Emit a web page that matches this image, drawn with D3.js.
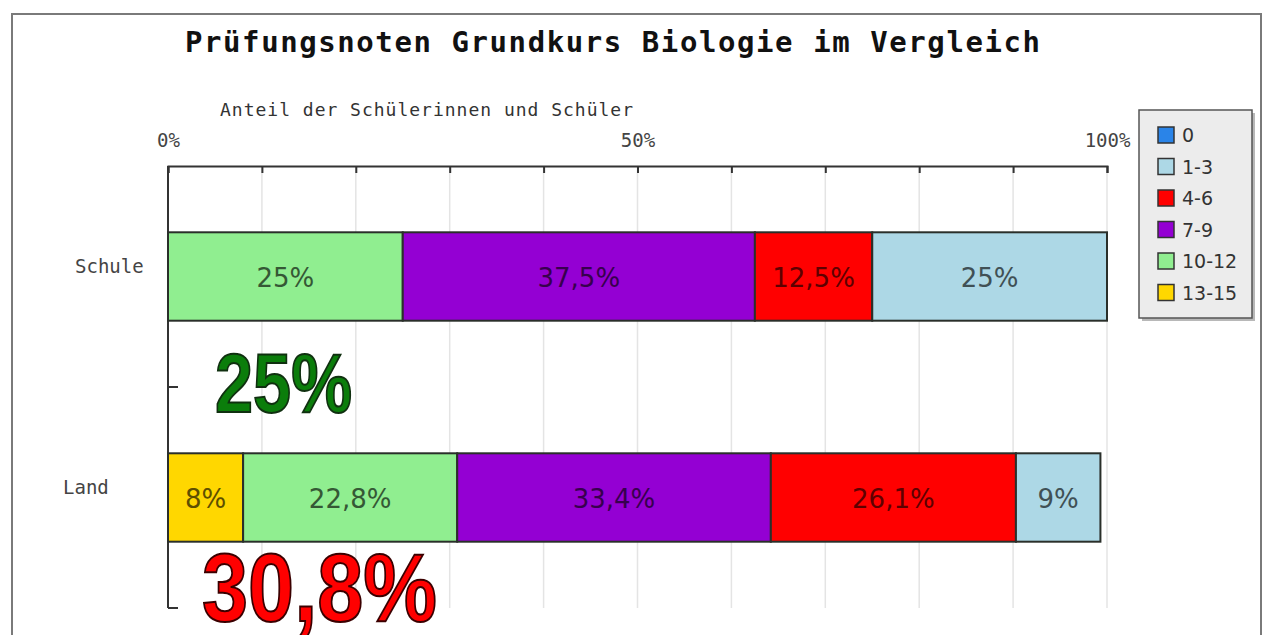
<!DOCTYPE html>
<html>
<head>
<meta charset="utf-8">
<script src="https://cdn.jsdelivr.net/npm/d3@7"></script>
<style>
  body { margin: 0; background: #fff; }
  svg { display: block; }
</style>
</head>
<body>
<div id="grafico"></div>
<script>
// Daten (Anteile in %), Reihenfolge der Stapel von links nach rechts
const kategorien = ["Schule", "Land"];
const noten = ["13-15", "10-12", "7-9", "4-6", "1-3", "0"];
const schule = [0, 25, 37.5, 12.5, 25, 0];
const land = [8, 22.8, 33.4, 26.1, 9, 0];
const legendeNoten = ["0", "1-3", "4-6", "7-9", "10-12", "13-15"];
const achsenTicks = [0, 10, 20, 30, 40, 50, 60, 70, 80, 90, 100];
const tickTexte = { 0: "0%", 50: "50%", 100: "100%" };

const farben = {
  "0": "#2a84e8",
  "1-3": "#add8e6",
  "4-6": "#ff0000",
  "7-9": "#9400d3",
  "10-12": "#90ee90",
  "13-15": "#ffd700"
};

const W = 1263, H = 635;
const plot = { left: 168, right: 1107, top: 166, bottom: 608 };

const svg = d3.select("#grafico").append("svg")
  .attr("width", W)
  .attr("height", H);

// Rahmen
svg.append("rect")
  .attr("x", 12).attr("y", 14)
  .attr("width", 1249).attr("height", 700)
  .attr("fill", "none")
  .attr("stroke", "#7a7a7a")
  .attr("stroke-width", 2);

// Skalen
const x = d3.scaleLinear().domain([0, 100]).range([plot.left, plot.right]);
const y = d3.scaleBand().domain(kategorien)
  .range([plot.top, plot.bottom])
  .paddingInner(0.6).paddingOuter(0.3);

// Tabelle fuer d3.stack
const werte = { Schule: schule, Land: land };
const tabelle = kategorien.map(k => {
  const zeile = { kategorie: k };
  noten.forEach((n, i) => zeile[n] = werte[k][i]);
  return zeile;
});
const serien = d3.stack().keys(noten)(tabelle);

// Gitterlinien
svg.append("g")
  .selectAll("line")
  .data(achsenTicks.slice(1))
  .join("line")
  .attr("x1", d => x(d)).attr("x2", d => x(d))
  .attr("y1", plot.top).attr("y2", plot.bottom)
  .attr("stroke", "#e4e4e4")
  .attr("stroke-width", 1.5);

// Titel
svg.append("text")
  .attr("x", 185).attr("y", 52)
  .attr("textLength", 855)
  .attr("lengthAdjust", "spacing")
  .style("font-family", "'DejaVu Sans Mono', monospace")
  .style("font-weight", "bold")
  .style("font-size", "29px")
  .attr("fill", "#111")
  .text("Prüfungsnoten Grundkurs Biologie im Vergleich");

// Achsentitel
svg.append("text")
  .attr("x", 220).attr("y", 116)
  .attr("textLength", 413)
  .attr("lengthAdjust", "spacing")
  .style("font-family", "'DejaVu Sans Mono', monospace")
  .style("font-size", "18px")
  .attr("fill", "#333")
  .text("Anteil der Schülerinnen und Schüler");

// Obere Achse
const achseOben = svg.append("g")
  .attr("transform", `translate(0, ${plot.top})`)
  .call(d3.axisTop(x)
    .tickValues(achsenTicks)
    .tickSize(-7)
    .tickPadding(19)
    .tickFormat(d => tickTexte[d] || ""));
achseOben.select(".domain").attr("stroke", "#333").attr("stroke-width", 2);
achseOben.selectAll(".tick line").attr("stroke", "#333").attr("stroke-width", 2);
achseOben.selectAll("text")
  .style("font-family", "'DejaVu Sans Mono', monospace")
  .style("font-size", "19px")
  .attr("fill", "#444");

// Linke Achse mit Ticks an den Kategoriegrenzen
svg.append("line")
  .attr("x1", plot.left).attr("x2", plot.left)
  .attr("y1", plot.top).attr("y2", plot.bottom)
  .attr("stroke", "#333").attr("stroke-width", 2);
const grenzen = kategorien.map(k => y(k) + y.bandwidth() + y.step() * 0.3);
svg.append("g")
  .selectAll("line")
  .data(grenzen)
  .join("line")
  .attr("x1", plot.left).attr("x2", plot.left + 10)
  .attr("y1", d => d).attr("y2", d => d)
  .attr("stroke", "#333").attr("stroke-width", 2);

// Kategorienamen
const labelX = { Schule: 75, Land: 63 };
svg.append("g")
  .selectAll("text")
  .data(kategorien)
  .join("text")
  .attr("x", d => labelX[d])
  .attr("y", d => y(d) + y.bandwidth() / 2 - 4)
  .style("font-family", "'DejaVu Sans Mono', monospace")
  .style("font-size", "19px")
  .attr("fill", "#444")
  .text(d => d);

// Balken
const gruppen = svg.append("g")
  .selectAll("g")
  .data(serien)
  .join("g")
  .attr("fill", d => farben[d.key]);

gruppen.selectAll("rect")
  .data(d => d.filter(s => s[1] - s[0] > 0))
  .join("rect")
  .attr("x", d => x(d[0]))
  .attr("width", d => x(d[1]) - x(d[0]))
  .attr("y", d => y(d.data.kategorie))
  .attr("height", y.bandwidth())
  .attr("stroke", "#2a2f2a")
  .attr("stroke-width", 2);

// Beschriftung der Balken
const fmt = v => String(v).replace(".", ",") + "%";
serien.forEach(s => {
  svg.append("g")
    .selectAll("text")
    .data(s.filter(d => d[1] - d[0] > 0))
    .join("text")
    .attr("x", d => (x(d[0]) + x(d[1])) / 2)
    .attr("y", d => y(d.data.kategorie) + y.bandwidth() / 2 + 10)
    .attr("text-anchor", "middle")
    .style("font-family", "'DejaVu Sans', Verdana, sans-serif")
    .style("font-size", "26px")
    .attr("fill", d3.color(farben[s.key]).darker(2.8))
    .text(d => fmt(+(d[1] - d[0]).toFixed(1)));
});

// Hervorhebung: Anteil der Noten 10-15
const gut = kategorien.map(k => +(werte[k][0] + werte[k][1]).toFixed(1));
const hervor = [
  { wert: gut[0], k: "Schule", fill: "#0b7d0b", stroke: "#103010", size: 84, len: 137, dx: 47, dy: 91 },
  { wert: gut[1], k: "Land", fill: "#ff0000", stroke: "#3a0000", size: 96, len: 235, dx: 34, dy: 79 }
];
svg.append("g")
  .selectAll("text")
  .data(hervor)
  .join("text")
  .attr("x", d => plot.left + d.dx)
  .attr("y", d => y(d.k) + y.bandwidth() + d.dy)
  .attr("textLength", d => d.len)
  .attr("lengthAdjust", "spacingAndGlyphs")
  .style("font-family", "'Liberation Sans', Arial, sans-serif")
  .style("font-weight", "bold")
  .style("font-size", d => d.size + "px")
  .attr("fill", d => d.fill)
  .attr("stroke", d => d.stroke)
  .attr("stroke-width", 2)
  .text(d => fmt(d.wert));

// Legende
const leg = svg.append("g").attr("transform", "translate(1139, 110)");
leg.append("rect")
  .attr("x", 3).attr("y", 3)
  .attr("width", 113).attr("height", 208)
  .attr("fill", "#b8b8b8");
leg.append("rect")
  .attr("width", 113).attr("height", 208)
  .attr("fill", "#ececec")
  .attr("stroke", "#555")
  .attr("stroke-width", 1.5);
const eintrag = leg.selectAll("g.eintrag")
  .data(legendeNoten)
  .join("g")
  .attr("class", "eintrag")
  .attr("transform", (d, i) => `translate(19, ${17 + i * 31.5})`);
eintrag.append("rect")
  .attr("width", 16).attr("height", 16)
  .attr("fill", d => farben[d])
  .attr("stroke", "#333")
  .attr("stroke-width", 1.5);
eintrag.append("text")
  .attr("x", 24).attr("y", 15)
  .style("font-family", "'DejaVu Sans', Verdana, sans-serif")
  .style("font-size", "19px")
  .attr("fill", "#333")
  .text(d => d);
</script>
</body>
</html>
